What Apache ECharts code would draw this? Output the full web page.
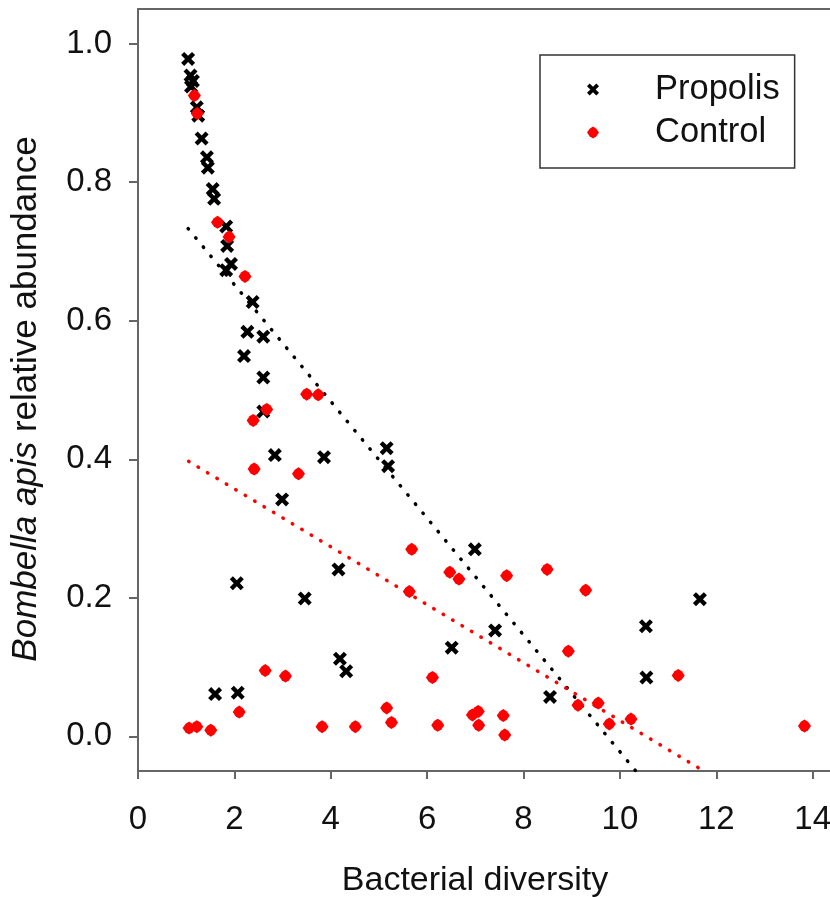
<!DOCTYPE html>
<html><head><meta charset="utf-8">
<script src="https://cdn.jsdelivr.net/npm/echarts@6/dist/echarts.min.js"></script>
<style>html,body{margin:0;padding:0;background:#fff}#c{width:830px;height:897px}</style>
</head><body><div id="c"></div>
<script>
const propolisX = [1.04,1.09,1.14,1.10,1.22,1.25,1.32,1.43,1.45,1.55,1.58,1.83,1.85,1.93,1.83,2.38,2.27,2.60,2.20,2.60,2.60,2.84,3.86,2.99,5.16,5.19,6.99,2.05,3.46,4.16,7.41,6.51,4.19,4.32,1.60,2.07,8.55,10.54,10.55,11.66];
const propolisY = [0.978,0.954,0.946,0.938,0.908,0.896,0.863,0.836,0.821,0.790,0.776,0.736,0.708,0.682,0.673,0.627,0.584,0.577,0.549,0.518,0.469,0.406,0.403,0.342,0.416,0.390,0.270,0.221,0.199,0.241,0.153,0.128,0.112,0.094,0.061,0.063,0.057,0.159,0.085,0.198];
const controlX = [1.17,1.23,1.65,1.89,2.22,3.50,3.74,2.67,2.39,2.41,3.33,5.68,6.47,6.66,7.65,8.49,9.29,5.63,8.93,2.64,3.06,6.11,11.21,9.13,9.55,2.10,5.16,5.26,1.06,1.22,1.51,3.82,4.51,6.22,6.94,7.06,7.07,7.58,7.61,9.78,10.23,13.83];
const controlY = [0.925,0.899,0.742,0.721,0.664,0.494,0.493,0.472,0.456,0.386,0.379,0.270,0.237,0.227,0.232,0.241,0.211,0.209,0.123,0.095,0.087,0.085,0.088,0.045,0.048,0.035,0.041,0.020,0.012,0.014,0.009,0.014,0.014,0.016,0.031,0.036,0.016,0.030,0.002,0.018,0.025,0.015];
const propolisFitX = [1.04, 10.33];
const propolisFitY = [0.733, -0.05];
const controlFitX = [1.05, 11.74];
const controlFitY = [0.397, -0.05];
const xTicks = [0, 2, 4, 6, 8, 10, 12, 14];
const yTicks = [0, 0.2, 0.4, 0.6, 0.8, 1.0];

const zip = (a, b) => a.map((v, i) => [v, b[i]]);
const FONT = "'Liberation Sans', Arial, sans-serif";
const AXIS_COLOR = '#666';
const X_PATH = 'path://M0,2.2L2.2,0L5,2.8L7.8,0L10,2.2L7.2,5L10,7.8L7.8,10L5,7.2L2.2,10L0,7.8L2.8,5Z';
const DOT_PATH = 'path://M5,0L7.8,1.8L10,5L7.8,8.2L5,10L2.2,8.2L0,5L2.2,1.8Z';

const chart = echarts.init(document.getElementById('c'), null, {renderer: 'canvas'});
chart.setOption({
  animation: false,
  backgroundColor: '#fff',
  textStyle: {fontFamily: FONT},
  grid: {left: 138, top: 9, right: 0, bottom: 126, containLabel: false, outerBoundsMode: 'none'},
  legend: {
    orient: 'vertical', left: 540, top: 55,
    padding: [17, 15, 18, 47], itemGap: 8,
    itemWidth: 12, itemHeight: 12,
    borderColor: '#333', borderWidth: 1.5, backgroundColor: '#fff',
    data: ['Propolis', 'Control'],
    textStyle: {fontSize: 34.5, lineHeight: 34, color: '#111', fontFamily: FONT, padding: [0, 0, 0, 51]}
  },
  xAxis: [{
    type: 'value', min: 0, max: 14.36, position: 'bottom',
    name: 'Bacterial diversity', nameLocation: 'middle', nameGap: 93,
    nameTextStyle: {fontSize: 34, color: '#111', fontFamily: FONT, padding: [0, 18, 0, 0]},
    axisLine: {show: true, onZero: false, lineStyle: {color: AXIS_COLOR, width: 2}},
    axisTick: {show: true, customValues: xTicks, length: 8, lineStyle: {color: AXIS_COLOR, width: 2}},
    axisLabel: {customValues: xTicks, margin: 32, fontSize: 33, color: '#111', fontFamily: FONT,
      formatter: v => String(v)},
    splitLine: {show: false}
  }, {
    type: 'value', min: 0, max: 14.36, position: 'top',
    axisLine: {show: true, onZero: false, lineStyle: {color: AXIS_COLOR, width: 2}},
    axisTick: {show: false}, axisLabel: {show: false}, splitLine: {show: false}
  }],
  yAxis: {
    type: 'value', min: -0.05, max: 1.05,
    name: '{i|Bombella apis} relative abundance', nameLocation: 'middle', nameGap: 94, nameRotate: 90,
    nameTextStyle: {fontSize: 35, color: '#111', fontFamily: FONT, padding: [0, 18, 0, 0],
      rich: {i: {fontStyle: 'italic', fontSize: 35, color: '#111', fontFamily: FONT}}},
    axisLine: {show: true, onZero: false, lineStyle: {color: AXIS_COLOR, width: 2}},
    axisTick: {show: true, customValues: yTicks, length: 9, lineStyle: {color: AXIS_COLOR, width: 2}},
    axisLabel: {customValues: yTicks, margin: 26, fontSize: 33, color: '#111', fontFamily: FONT,
      formatter: v => Number(v).toFixed(1)},
    splitLine: {show: false}
  },
  series: [{
    name: 'PropolisFit', type: 'line', data: zip(propolisFitX, propolisFitY),
    symbol: 'none', silent: true, z: 1, clip: true,
    lineStyle: {color: '#000', width: 3.5, type: [0.5, 11.4], cap: 'round'}
  }, {
    name: 'ControlFit', type: 'line', data: zip(controlFitX, controlFitY),
    symbol: 'none', silent: true, z: 1, clip: true,
    lineStyle: {color: '#ff0000', width: 3.5, type: [0.5, 10.5], cap: 'round'}
  }, {
    name: 'Propolis', type: 'scatter', data: zip(propolisX, propolisY),
    symbol: X_PATH, symbolSize: 14, z: 2,
    itemStyle: {color: '#000', opacity: 1}
  }, {
    name: 'Control', type: 'scatter', data: zip(controlX, controlY),
    symbol: DOT_PATH, symbolSize: 13, z: 3,
    itemStyle: {color: '#ff0000', opacity: 1}
  }]
});
</script>
</body></html>
